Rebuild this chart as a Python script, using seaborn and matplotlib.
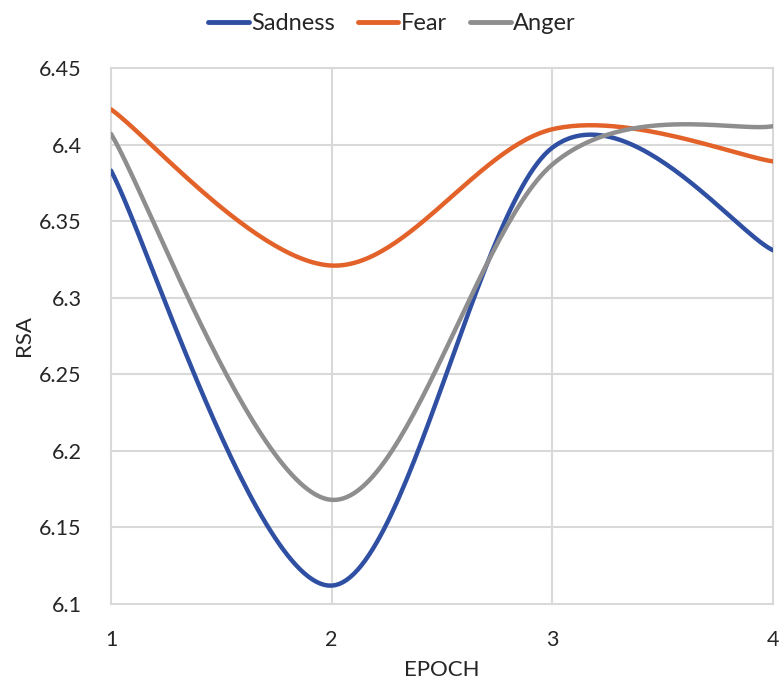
import numpy as np
import pandas as pd
import matplotlib
matplotlib.use("Agg")
import matplotlib.pyplot as plt
from matplotlib.lines import Line2D
import seaborn as sns

epochs = [1, 2, 3, 4]
sadness = [6.383, 6.112, 6.398, 6.331]
fear = [6.423, 6.321, 6.410, 6.389]
anger = [6.407, 6.168, 6.387, 6.412]
series_names = ["Sadness", "Fear", "Anger"]
colors = ["#2F4FA2", "#E2622A", "#8E8E8E"]
y_ticks = [6.1, 6.15, 6.2, 6.25, 6.3, 6.35, 6.4, 6.45]
y_labels = ["6.1", "6.15", "6.2", "6.25", "6.3", "6.35", "6.4", "6.45"]


def smooth_curve(xs, ys, n=60):
    """Catmull-Rom style cubic Bezier through the points (spreadsheet 'smoothed line')."""
    P = np.column_stack([xs, ys]).astype(float)
    ext = np.vstack([P[0], P, P[-1]])
    out = []
    t = np.linspace(0, 1, n)[:, None]
    for i in range(len(P) - 1):
        p0, p1, p2, p3 = ext[i], ext[i + 1], ext[i + 2], ext[i + 3]
        c1 = p1 + (p2 - p0) / 6.0
        c2 = p2 - (p3 - p1) / 6.0
        seg = ((1 - t) ** 3) * p1 + 3 * ((1 - t) ** 2) * t * c1 + 3 * (1 - t) * t ** 2 * c2 + t ** 3 * p2
        out.append(seg if i == 0 else seg[1:])
    return np.vstack(out)


frames = []
for name, vals in zip(series_names, [sadness, fear, anger]):
    c = smooth_curve(epochs, vals)
    frames.append(pd.DataFrame({"EPOCH": c[:, 0], "RSA": c[:, 1], "series": name}))
df = pd.concat(frames, ignore_index=True)

sns.set_theme(style="white")
plt.rcParams["font.family"] = ["Lato", "DejaVu Sans"]

fig = plt.figure(figsize=(7.84, 6.86), dpi=100)
ax = fig.add_axes([111 / 784, (686 - 604) / 686, (773 - 111) / 784, (604 - 68) / 686])

sns.lineplot(data=df, x="EPOCH", y="RSA", hue="series", hue_order=series_names,
             palette=colors, sort=False, estimator=None,
             linewidth=3.2, ax=ax, legend=False, zorder=3)

ax.set_xlim(1, 4)
ax.set_ylim(6.1, 6.45)
ax.set_xticks(epochs)
ax.set_xticklabels([str(e) for e in epochs])
ax.set_yticks(y_ticks)
ax.set_yticklabels(y_labels)
ax.grid(True, color="#D9D9D9", linewidth=1.5)
for gl in ax.get_xgridlines() + ax.get_ygridlines():
    gl.set_clip_on(False)
for s in ax.spines.values():
    s.set_visible(False)
ax.tick_params(axis="both", length=0, labelsize=15.5, colors="#262626")
ax.tick_params(axis="x", pad=19)
ax.tick_params(axis="y", pad=21)
ax.set_xlabel("EPOCH", fontsize=16, color="#262626", labelpad=7)
ax.set_ylabel("RSA", fontsize=16, color="#262626", labelpad=4)

handles = [Line2D([0], [0], color=c, lw=3.5) for c in colors]
fig.legend(handles, series_names, loc="upper center", bbox_to_anchor=(0.5, 1.012), ncol=3,
           frameon=False, fontsize=17, handlelength=1.7, handletextpad=0.1, columnspacing=1.0,
           labelcolor="#262626")

fig.savefig("out.png", dpi=100)
